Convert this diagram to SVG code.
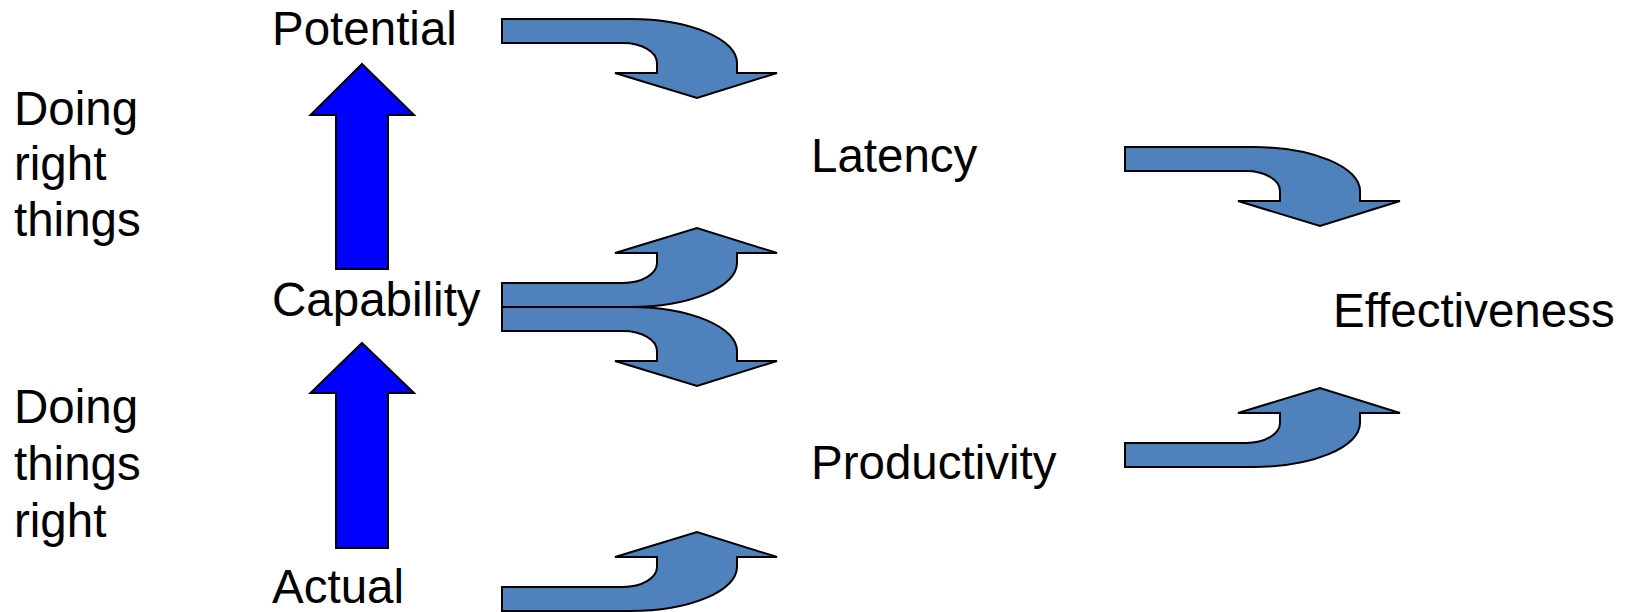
<svg xmlns="http://www.w3.org/2000/svg" xmlns:xlink="http://www.w3.org/1999/xlink" width="1627" height="612" viewBox="0 0 1627 612">
<style>
text{font-family:"Liberation Sans",Arial,sans-serif;font-size:47.5px;fill:#000}
.curve{fill:#4F81BD;stroke:#000;stroke-width:2;stroke-linejoin:miter}
.up{fill:#0000FF;stroke:#000;stroke-width:2}
</style>
<defs>
<path id="turn" d="M0,0 H128 A107,44 0 0 1 235,44 V54 H275 L195,79 L113,54 H155 V44 A34,20 0 0 0 121,24 H0 Z"/>
</defs>
<rect width="1627" height="612" fill="#fff"/>
<g id="labels">
<g id="doing-right-things"><text x="14" y="125">Doing</text><text x="14" y="180">right</text><text x="14" y="236">things</text></g>
<g id="doing-things-right"><text x="14" y="423">Doing</text><text x="14" y="480">things</text><text x="14" y="537">right</text></g>
</g>
<g id="potential"><text x="272" y="45">Potential</text></g>
<g id="capability"><text x="272" y="316">Capability</text></g>
<g id="actual"><text x="272" y="603">Actual</text></g>
<g id="latency"><text x="811" y="172">Latency</text></g>
<g id="productivity"><text x="811" y="479">Productivity</text></g>
<g id="effectiveness"><text x="1333" y="327">Effectiveness</text></g>
<g id="connectors">
<path class="up" d="M362,64 L414,115 H388 V269 H336 V115 H310.5 Z"/>
<path class="up" d="M362,343 L414,393 H388 V548 H336 V393 H310.5 Z"/>
<use xlink:href="#turn" class="curve" transform="translate(502,19)"/>
<use xlink:href="#turn" class="curve" transform="translate(502,307) scale(1,-1)"/>
<use xlink:href="#turn" class="curve" transform="translate(502,307)"/>
<use xlink:href="#turn" class="curve" transform="translate(502,611) scale(1,-1)"/>
<use xlink:href="#turn" class="curve" transform="translate(1125,147)"/>
<use xlink:href="#turn" class="curve" transform="translate(1125,467) scale(1,-1)"/>
</g>
</svg>
